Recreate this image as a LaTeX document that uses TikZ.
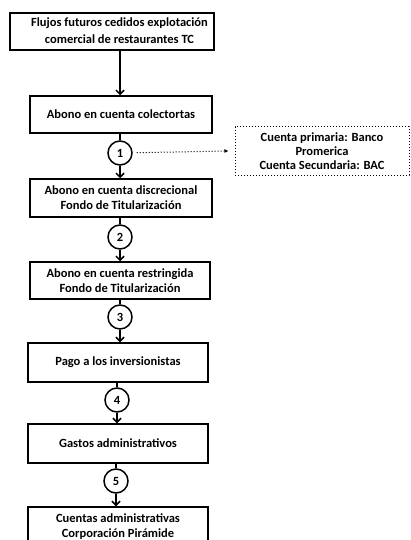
\documentclass[tikz,border=0pt]{standalone}
\usepackage{fontspec}
\setmainfont{Carlito}
\usetikzlibrary{arrows.meta}

\begin{document}
\begin{tikzpicture}[x = 1pt, y = -1pt,
  font = \fontsize{12.5}{15}\selectfont\bfseries,
  paso/.style = {draw, line width = 1.5pt, align = center, inner sep = 0pt,
    minimum width = 180pt, minimum height = 38pt},
  num/.style = {draw, circle, line width = 1.5pt, inner sep = 0pt,
    minimum size = 24pt},
  flecha/.style = {line width = 1.5pt, -{Straight Barb[length = 4pt, width = 8pt]}},
  nota/.style = {draw, dotted, line width = 1pt, align = center,
    inner sep = 0pt, minimum width = 174pt, minimum height = 48pt,
    font = \fontsize{12.5}{14}\selectfont\bfseries}]

  \useasboundingbox (0, 0) rectangle (411, 540);
  \clip (0, 0) rectangle (411, 540);

  % text of the first box sits a little to the right
  \node[paso, minimum width = 204pt, minimum height = 37pt, align = left]
    (flujos) at (112, 31.5)
    {\hspace*{15pt}\renewcommand\arraystretch{1.13}%
     \begin{tabular}{@{}c@{}}Flujos futuros cedidos explotaci\'on\\
     comercial de restaurantes TC\end{tabular}};
  \node[paso, minimum width = 182pt, minimum height = 37pt] (colectoras)
    at (121, 114.5) {Abono en cuenta colectortas};
  \node[paso, minimum width = 182pt] (discrecional) at (121, 198)
    {Abono en cuenta discrecional\\Fondo de Titularizaci\'on};
  \node[paso, minimum height = 37pt] (restringida) at (120, 280.5)
    {Abono en cuenta restringida\\Fondo de Titularizaci\'on};
  \node[paso, minimum height = 39pt] (pago) at (118, 362.5)
    {Pago a los inversionistas};
  \node[paso, minimum height = 39pt] (gastos) at (118, 443.5)
    {Gastos administrativos};
  \node[paso, minimum height = 39pt] (cuentas) at (118, 526.5)
    {Cuentas administrativas\\Corporaci\'on Pir\'amide};

  \node[num] (n1) at (120, 153) {1};
  \node[num] (n2) at (120, 237) {2};
  \node[num] (n3) at (120, 317) {3};
  \node[num] (n4) at (117, 400) {4};
  \node[num] (n5) at (116, 481) {5};

  \node[nota] (bancos) at (322, 151)
    {Cuenta primaria: Banco\\Promerica\\Cuenta Secundaria: BAC};

  \draw[flecha] (flujos.south -| n1) -- (colectoras.north -| n1);
  \draw[line width = 1.5pt] (colectoras.south -| n1) -- (n1);
  \draw[flecha] (n1) -- (discrecional.north -| n1);
  \draw[line width = 1.5pt] (discrecional.south -| n2) -- (n2);
  \draw[flecha] (n2) -- (restringida.north -| n2);
  \draw[line width = 1.5pt] (restringida.south -| n3) -- (n3);
  \draw[flecha] (n3) -- (pago.north -| n3);
  \draw[line width = 1.5pt] (pago.south -| n4) -- (n4);
  \draw[flecha] (n4) -- (gastos.north -| n4);
  \draw[line width = 1.5pt] (gastos.south -| n5) -- (n5);
  \draw[flecha] (n5) -- (cuentas.north -| n5);

  \draw[dotted, line width = 1pt, shorten <= 4pt,
    -{Latex[length = 4pt, width = 4pt]}]
    (n1) -- ([xshift = -6pt] bancos.west);
\end{tikzpicture}
\end{document}
